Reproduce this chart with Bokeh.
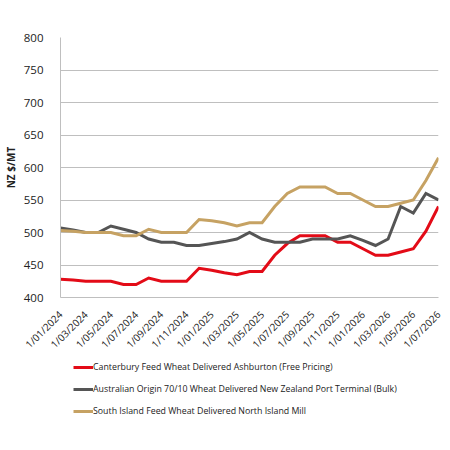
from bokeh.plotting import figure
from bokeh.layouts import column
from bokeh.models import FixedTicker, Legend, LegendItem, Range1d
from bokeh.embed import file_html
from bokeh.resources import INLINE

# Monthly dates, Jan 2024 to Jul 2026
months = [
    "1/01/2024", "1/02/2024", "1/03/2024", "1/04/2024", "1/05/2024", "1/06/2024",
    "1/07/2024", "1/08/2024", "1/09/2024", "1/10/2024", "1/11/2024", "1/12/2024",
    "1/01/2025", "1/02/2025", "1/03/2025", "1/04/2025", "1/05/2025", "1/06/2025",
    "1/07/2025", "1/08/2025", "1/09/2025", "1/10/2025", "1/11/2025", "1/12/2025",
    "1/01/2026", "1/02/2026", "1/03/2026", "1/04/2026", "1/05/2026", "1/06/2026",
    "1/07/2026",
]

canterbury = [428, 427, 425, 425, 425, 420, 420, 430, 425, 425, 425, 445,
              442, 438, 435, 440, 440, 465, 483, 495, 495, 495, 485, 485,
              475, 465, 465, 470, 475, 502, 540]
australian = [507, 504, 500, 500, 510, 505, 500, 490, 485, 485, 480, 480,
              483, 486, 490, 500, 490, 485, 485, 485, 490, 490, 490, 495,
              488, 480, 490, 540, 530, 560, 550]
south_island = [503, 502, 500, 500, 500, 495, 495, 505, 500, 500, 500, 520,
                518, 515, 510, 515, 515, 540, 560, 570, 570, 570, 560, 560,
                550, 540, 540, 545, 550, 580, 615]

series_names = [
    "Canterbury Feed Wheat Delivered Ashburton (Free Pricing)",
    "Australian Origin 70/10 Wheat Delivered New Zealand Port Terminal (Bulk)",
    "South Island Feed Wheat Delivered North Island Mill",
]
series_colors = ["#E30B17", "#555555", "#C6A263"]
series_values = [canterbury, australian, south_island]

y_ticks = [400, 450, 500, 550, 600, 650, 700, 750, 800]

x = list(range(len(months)))
font = "Open Sans"

p = figure(
    width=450, height=359,
    output_backend="svg", toolbar_location=None,
    x_range=Range1d(0, len(months) - 1),
    y_range=Range1d(400, 800),
    min_border_left=56, min_border_right=12,
    min_border_top=37, min_border_bottom=62,
)
p.outline_line_color = None
p.background_fill_color = "white"
p.border_fill_color = "white"

# x axis: every second month, rotated labels
p.xaxis.ticker = FixedTicker(ticks=x[::2])
p.xaxis.major_label_overrides = {i: months[i] for i in x[::2]}
p.xaxis.major_label_orientation = 0.785398
p.xaxis.major_label_text_font = font
p.xaxis.major_label_text_font_size = "10px"
p.xaxis.major_label_text_color = "#222222"
p.xaxis.major_label_standoff = 9
p.xaxis.major_tick_line_color = None
p.xaxis.minor_tick_line_color = None
p.xaxis.axis_line_color = "#BFBFBF"
p.xgrid.grid_line_color = None

# y axis
p.yaxis.ticker = FixedTicker(ticks=y_ticks)
p.yaxis.major_label_text_font = font
p.yaxis.major_label_text_font_size = "11.5px"
p.yaxis.major_label_text_color = "#222222"
p.yaxis.major_label_standoff = 11
p.yaxis.major_tick_line_color = None
p.yaxis.minor_tick_line_color = None
p.yaxis.axis_line_color = "#BFBFBF"
p.yaxis.axis_label = "NZ $/MT"
p.yaxis.axis_label_text_font = font
p.yaxis.axis_label_text_font_size = "10px"
p.yaxis.axis_label_text_font_style = "bold"
p.yaxis.axis_label_text_color = "#222222"
p.yaxis.axis_label_standoff = 3
p.ygrid.grid_line_color = "#BFBFBF"
p.ygrid.grid_line_width = 1

for values, color in zip(series_values, series_colors):
    p.line(x, values, line_color=color, line_width=3, line_join="miter")

# legend panel under the chart; its series renderers are kept hidden,
# only their legend swatches are drawn
leg_fig = figure(
    width=450, height=91,
    output_backend="svg", toolbar_location=None,
    x_axis_type=None, y_axis_type=None,
    x_range=Range1d(0, len(months) - 1),
    y_range=Range1d(400, 800),
    min_border=0,
)
leg_fig.outline_line_color = None
leg_fig.grid.visible = False

leg_renderers = []
for values, color in zip(series_values, series_colors):
    r = leg_fig.line(x, values, line_color=color, line_width=3, visible=False)
    leg_renderers.append(r)

legend = Legend(
    items=[LegendItem(label=n, renderers=[r]) for n, r in zip(series_names, leg_renderers)],
    location=(13, 33),
    orientation="vertical",
    glyph_width=20, glyph_height=12,
    spacing=10, padding=0, margin=0, label_standoff=0,
    label_text_font=font, label_text_font_size="8.8px",
    label_text_color="#222222",
    border_line_alpha=0, background_fill_alpha=0,
)
leg_fig.add_layout(legend, "center")

layout = column(p, leg_fig, spacing=0)

open("out.html", "w").write(file_html(layout, INLINE))
